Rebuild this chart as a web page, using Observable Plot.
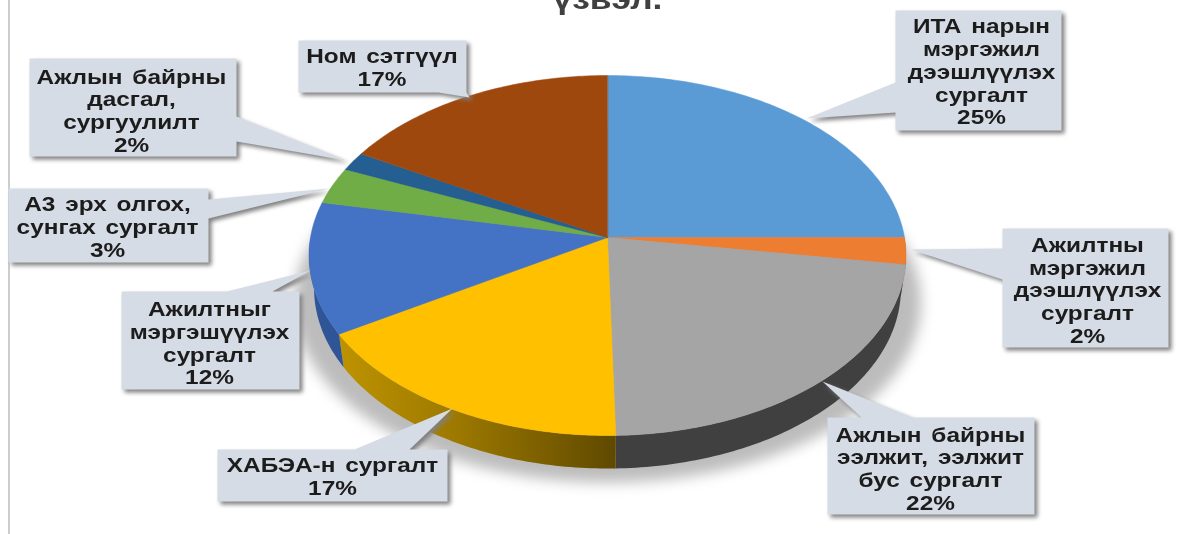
<!DOCTYPE html>
<html><head><meta charset="utf-8">
<script src="https://cdn.jsdelivr.net/npm/d3@7"></script>
<script src="https://cdn.jsdelivr.net/npm/@observablehq/plot@0.6"></script>
<style>html,body{margin:0;padding:0;background:#fff;overflow:hidden}svg{display:block}svg text{word-spacing:2.5px}</style>
</head><body><div id="chart"></div>
<script>
// --- values ---
const categories = ["ИТА нарын\nмэргэжил\nдээшлүүлэх\nсургалт","Ажилтны\nмэргэжил\nдээшлүүлэх\nсургалт","Ажлын байрны\nээлжит, ээлжит\nбус сургалт","ХАБЭА-н сургалт","Ажилтныг\nмэргэшүүлэх\nсургалт","А3 эрх олгох,\nсунгах сургалт","Ажлын байрны\nдасгал,\nсургуулилт","Ном сэтгүүл"];
const shown = [25,2,22,17,12,3,2,17];
const shares = [25,2.4,22.2,16.8,11.8,3.3,1.7,16.8];
const colors = ["#5B9BD5","#ED7D31","#A5A5A5","#FFC000","#4472C4","#70AD47","#255E91","#9E480E"];
const sideFills = ["#35618c","#a85720","#404040","url(#yellowSide)","#2f5597","#4c7a30","#1a4266","#6e320a"];
const title = "үзвэл.";

// --- layout of the picture ---
const cx=607, cy=237, A=297, B=178.2, k=0.1, depth=33, bottomScale=0.983, stretch=1.22;
const project = (share, dy=0, sx=1) => {
  const t = share/100*2*Math.PI, u=Math.sin(t), v=Math.cos(t), w=1+k*v;
  return {x: cx+sx*A*u/w, y: cy-B*v/w+dy};
};
const boxes = [
  {x0:895,x1:1061,y0:10,y1:130,lx:981,ly:71,tip:[806,118],a:[895,82],b:[895,112]},
  {x0:1002,x1:1168,y0:228,y1:347,lx:1087,ly:289.5,tip:[910,249],a:[1002,248],b:[1002,279]},
  {x0:827,x1:1034,y0:417,y1:514,lx:930,ly:468,tip:[822,381],a:[861,417],b:[912,417]},
  {x0:217,x1:447,y0:449,y1:501,lx:332,ly:476,tip:[452,408],a:[354,449],b:[409,449]},
  {x0:121,x1:299,y0:291,y1:389,lx:209,ly:342.5,tip:[310,270],a:[226,291],b:[272,291]},
  {x0:8,x1:208,y0:188,y1:262,lx:107,ly:226,tip:[329,188],a:[208,199],b:[208,218]},
  {x0:29,x1:236,y0:58,y1:156,lx:131,ly:110,tip:[346,160],a:[236,116],b:[236,141]},
  {x0:298,x1:466,y0:40,y1:92,lx:381.5,ly:67,tip:[469,97],a:[438,92],b:[466,92]}
];
const labelFont = {fontFamily:"Liberation Sans",fontWeight:"bold",fontSize:20,lineHeight:1.14,fill:"#1c1c1c"};

// --- geometry derived from the shares ---
let c = 0; const starts = shares.map(s => {const a=c; c+=s; return a;});
const arc = (a,b,dy=0,sx=1) => { const n=Math.max(2,Math.ceil((b-a)*4)); return d3.range(n+1).map(i=>project(a+(b-a)*i/n,dy,sx)); };
const tops = [], sides = [];
shares.forEach((s,i)=>{
  const name = categories[i];
  tops.push({x:cx,y:cy,name}); arc(starts[i],starts[i]+s).forEach(p=>tops.push({...p,name}));
  const a0=Math.max(starts[i],25), a1=Math.min(starts[i]+s,75);
  if (a1>a0) [...arc(a0,a1),...arc(a0,a1,depth,bottomScale).reverse()].forEach(p=>sides.push({...p,name}));
});
const shadow = arc(0,100,depth+14,1.05);
const callouts = boxes.flatMap((b,i)=>{
  const name=categories[i];
  const rect=[[b.x0,b.y0],[b.x1,b.y0],[b.x1,b.y1],[b.x0,b.y1]];
  const onTop=b.a[1]===b.y0&&b.b[1]===b.y0, onBottom=b.a[1]===b.y1&&b.b[1]===b.y1, onRight=b.a[0]===b.x1;
  let poly;
  if(onTop) poly=[rect[0],b.a,b.tip,b.b,rect[1],rect[2],rect[3]];
  else if(onBottom) poly=[rect[0],rect[1],rect[2],b.b,b.tip,b.a,rect[3]];
  else if(onRight) poly=[rect[0],rect[1],b.a,b.tip,b.b,rect[2],rect[3]];
  else poly=[rect[0],rect[1],rect[2],rect[3],b.b,b.tip,b.a];
  return poly.map(([x,y])=>({x,y,name}));
});
const labels = boxes.map((b,i)=>({x:b.lx,y:b.ly,text:categories[i]+"\n"+shown[i]+"%"}));

const defs = () => {
  const s = d3.create("svg:defs");
  const g = s.append("linearGradient").attr("id","yellowSide").attr("gradientUnits","userSpaceOnUse")
    .attr("x1",330).attr("x2",615).attr("y1",0).attr("y2",0);
  g.append("stop").attr("offset",0).attr("stop-color","#c09500");
  g.append("stop").attr("offset",0.45).attr("stop-color","#9c7800");
  g.append("stop").attr("offset",1).attr("stop-color","#5f4900");
  return s.node();
};
const line = (data,o) => Plot.line(data,{x:"x",y:"y",curve:"linear-closed",...o});

const plot = Plot.plot({
  width:1193,height:534,margin:0,
  style:{background:"#fff",overflow:"hidden"},
  x:{domain:[0,1193],range:[0,1193],axis:null},
  y:{domain:[0,534],range:[0,534],axis:null},
  color:{domain:categories,range:colors},
  marks:[
    defs,
    line(shadow,{fill:"#bcbcbc",imageFilter:"blur(7px)"}),
    Plot.ruleX([8.5],{stroke:"#bdbdbd",strokeWidth:1.5}),
    Plot.text([title],{x:()=>607,y:()=>8,text:d=>d,lineAnchor:"bottom",...labelFont,fontSize:29,fill:"#404040",imageFilter:"blur(0.5px)"}),
    ...shares.map((s,i)=>line(sides.filter(d=>d.name===categories[i]),{fill:sideFills[i]})),
    line(tops,{z:"name",fill:"name",stroke:"name",strokeWidth:0.5}),
    line(callouts,{z:"name",fill:"#D6DCE5",imageFilter:"drop-shadow(3.5px 3.5px 2px #808080)"}),
    Plot.text(labels,{x:"x",y:"y",text:"text",...labelFont,letterSpacing:"0.3px",lineAnchor:"middle",textAnchor:"middle",imageFilter:"blur(0.4px)"})
  ]
});
// the reference's lettering is horizontally stretched
plot.querySelectorAll("text").forEach(t => {
  t.setAttribute("transform",(t.getAttribute("transform")||"")+` scale(${stretch},1)`);
});
document.getElementById("chart").append(plot);
</script></body></html>
